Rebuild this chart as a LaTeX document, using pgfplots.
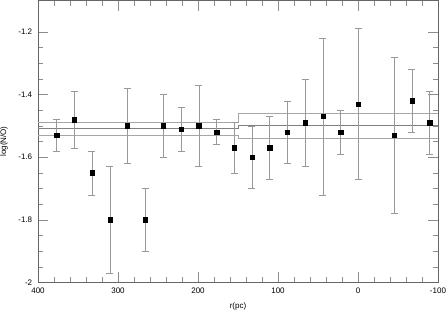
\documentclass[border=0pt]{standalone}
\usepackage{pgfplots}
\pgfplotsset{compat=1.18}
\usepackage{fontspec}
\setmainfont{Liberation Sans}
\begin{document}
\fontsize{8}{10}\selectfont
\begin{tikzpicture}
\path[use as bounding box] (-38pt,-31pt) rectangle (410pt,282.5pt);
\begin{axis}[
 scale only axis, width=400pt, height=282pt,
 at={(0,0)}, anchor=south west,
 x dir=reverse, xmin=-100, xmax=400, ymin=-2, ymax=-1.1,
 xtick={-100,0,100,200,300,400}, ytick={-2,-1.8,-1.6,-1.4,-1.2},
 minor x tick num=4, minor y tick num=3,
 tick align=inside, major tick length=10pt, minor tick length=5pt,
 axis line style={black!60, line width=0.5pt},
 every tick/.style={black!45, line width=0.5pt},
 /pgf/number format/assume math mode=true,
 tick label style={font=\fontsize{8}{10}\selectfont},
 xticklabel style={yshift=-3pt},
 yticklabel style={xshift=-3pt},
 xlabel={r(pc)}, ylabel={log(N/O)},
 every axis x label/.style={at={(axis description cs:0.5,0)}, anchor=center, yshift=-24pt, font=\fontsize{8}{10}\selectfont},
 every axis y label/.style={at={(axis description cs:0,0.5)}, rotate=90, anchor=center, yshift=34pt, font=\fontsize{8}{10}\selectfont},
]
\addplot[black!35, line width=0.6pt] coordinates {(400,-1.489) (150,-1.489) (150,-1.46) (-100,-1.46)};
\addplot[black!50, line width=0.6pt] coordinates {(400,-1.507) (150,-1.507) (150,-1.498) (-100,-1.498)};
\addplot[black!35, line width=0.6pt] coordinates {(400,-1.530) (150,-1.530) (150,-1.539) (-100,-1.539)};
\addplot[only marks, mark=square*, mark size=2.2pt, black,
 error bars/.cd, y dir=both, y explicit,
 error bar style={black!40, line width=0.5pt},
 error mark=-,
 error mark options={rotate=90, black!40, mark size=3.5pt, line width=0.5pt}]
 table[x=x, y=y, y error=e] {
x y e
376.6 -1.53 0.05
354.6 -1.48 0.09
332.5 -1.65 0.07
310.0 -1.80 0.17
288.4 -1.50 0.12
266.0 -1.80 0.10
243.4 -1.50 0.10
221.2 -1.51 0.07
199.0 -1.50 0.13
176.6 -1.52 0.04
154.6 -1.57 0.08
132.5 -1.60 0.10
110.4 -1.57 0.10
88.4 -1.52 0.10
65.9 -1.49 0.14
43.8 -1.47 0.25
21.6 -1.52 0.07
-0.4 -1.43 0.24
-45.4 -1.53 0.25
-67.5 -1.42 0.10
-89.6 -1.49 0.10
};
\end{axis}
\end{tikzpicture}
\end{document}
